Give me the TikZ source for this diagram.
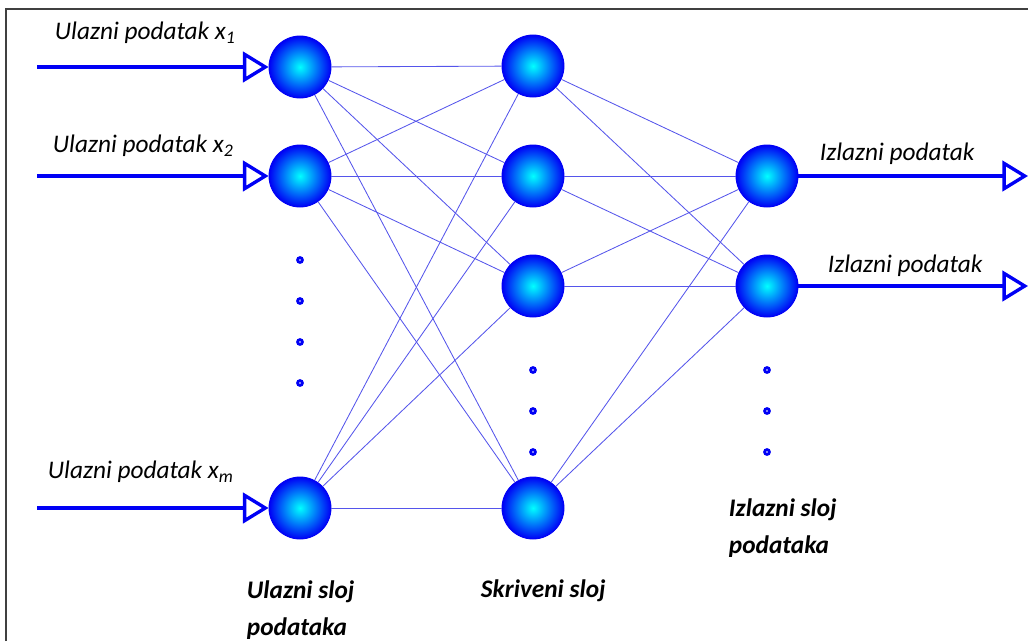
\documentclass[tikz,border=0pt]{standalone}
\usepackage{fontspec}
\setmainfont{Carlito}
\usetikzlibrary{arrows.meta}

\definecolor{netblue}{RGB}{0,0,245}
\definecolor{linkblue}{RGB}{85,85,235}
\definecolor{framegray}{RGB}{64,64,64}

\tikzset{
  neuron/.style={circle, minimum size=1.55cm, inner sep=0pt, draw=netblue, line width=0.6pt,
    shading=radial, inner color=cyan, outer color=netblue},
  link/.style={draw=linkblue, line width=0.6pt},
  flow/.style={draw=netblue, line width=2.4pt, -{Triangle[open, length=0.64cm, width=0.76cm]}},
  inlabel/.style={anchor=west, font=\fontsize{18}{21}\selectfont\itshape},
  laylabel/.style={anchor=north west, align=left, font=\fontsize{18}{26}\selectfont\bfseries\itshape},
  dotmark/.style={circle, draw=netblue, line width=2pt, fill=white, minimum size=0.12cm, inner sep=0pt}
}

\begin{document}
\begin{tikzpicture}[x=0.025cm, y=-0.025cm]
        \useasboundingbox (0,0) rectangle (1028,641);
        \draw[framegray, line width=1.5pt] (6,641) -- (6,9) -- (1030,9);

        % ulazni sloj
        \node[neuron] (in1) at (300,67) {};
        \node[neuron] (in2) at (300,176) {};
        \node[neuron] (inm) at (300,508) {};

        % skriveni sloj
        \node[neuron] (h1) at (533,66) {};
        \node[neuron] (h2) at (533,176) {};
        \node[neuron] (h3) at (533,286) {};
        \node[neuron] (h4) at (533,508) {};

        % izlazni sloj
        \node[neuron] (out1) at (767,176) {};
        \node[neuron] (out2) at (767,286) {};

        \foreach \a in {in1,in2,inm}
          \foreach \b in {h1,h2,h3,h4}
            \draw[link] (\a) -- (\b);
        \foreach \a in {h1,h2,h3,h4}
          \foreach \b in {out1,out2}
            \draw[link] (\a) -- (\b);

        % ulazi i izlazi
        \coordinate (src1) at (37,67);
        \coordinate (src2) at (37,176);
        \coordinate (srcm) at (37,508);
        \coordinate (dst1) at (1028,176);
        \coordinate (dst2) at (1028,286);
        \draw[flow] (src1) -- (in1.west);
        \draw[flow] (src2) -- (in2.west);
        \draw[flow] (srcm) -- (inm.west);
        \draw[flow] (out1.east) -- (dst1);
        \draw[flow] (out2.east) -- (dst2);

        \node[inlabel] (lx1) at (50,33) {Ulazni podatak x\textsubscript{1}};
        \node[inlabel] (lx2) at (48,146) {Ulazni podatak x\textsubscript{2}};
        \node[inlabel] (lxm) at (43,472) {Ulazni podatak x\textsubscript{m}};
        \node[inlabel] (ly1) at (815,154) {Izlazni podatak};
        \node[inlabel] (ly2) at (823,266) {Izlazni podatak};

        % tockice
        \node[dotmark] (d1) at (300,260) {};
        \node[dotmark] (d2) at (300,301) {};
        \node[dotmark] (d3) at (300,342) {};
        \node[dotmark] (d4) at (300,383) {};
        \node[dotmark] (d5) at (533,370) {};
        \node[dotmark] (d6) at (533,411) {};
        \node[dotmark] (d7) at (533,452) {};
        \node[dotmark] (d8) at (767,370) {};
        \node[dotmark] (d9) at (767,411) {};
        \node[dotmark] (d10) at (767,452) {};

        \node[laylabel] (lin) at (242,576) {Ulazni sloj\\podataka};
        \node[laylabel] (lhid) at (476,575) {Skriveni sloj};
        \node[laylabel] (lout) at (724,494) {Izlazni sloj\\podataka};
    \end{tikzpicture}
\end{document}
